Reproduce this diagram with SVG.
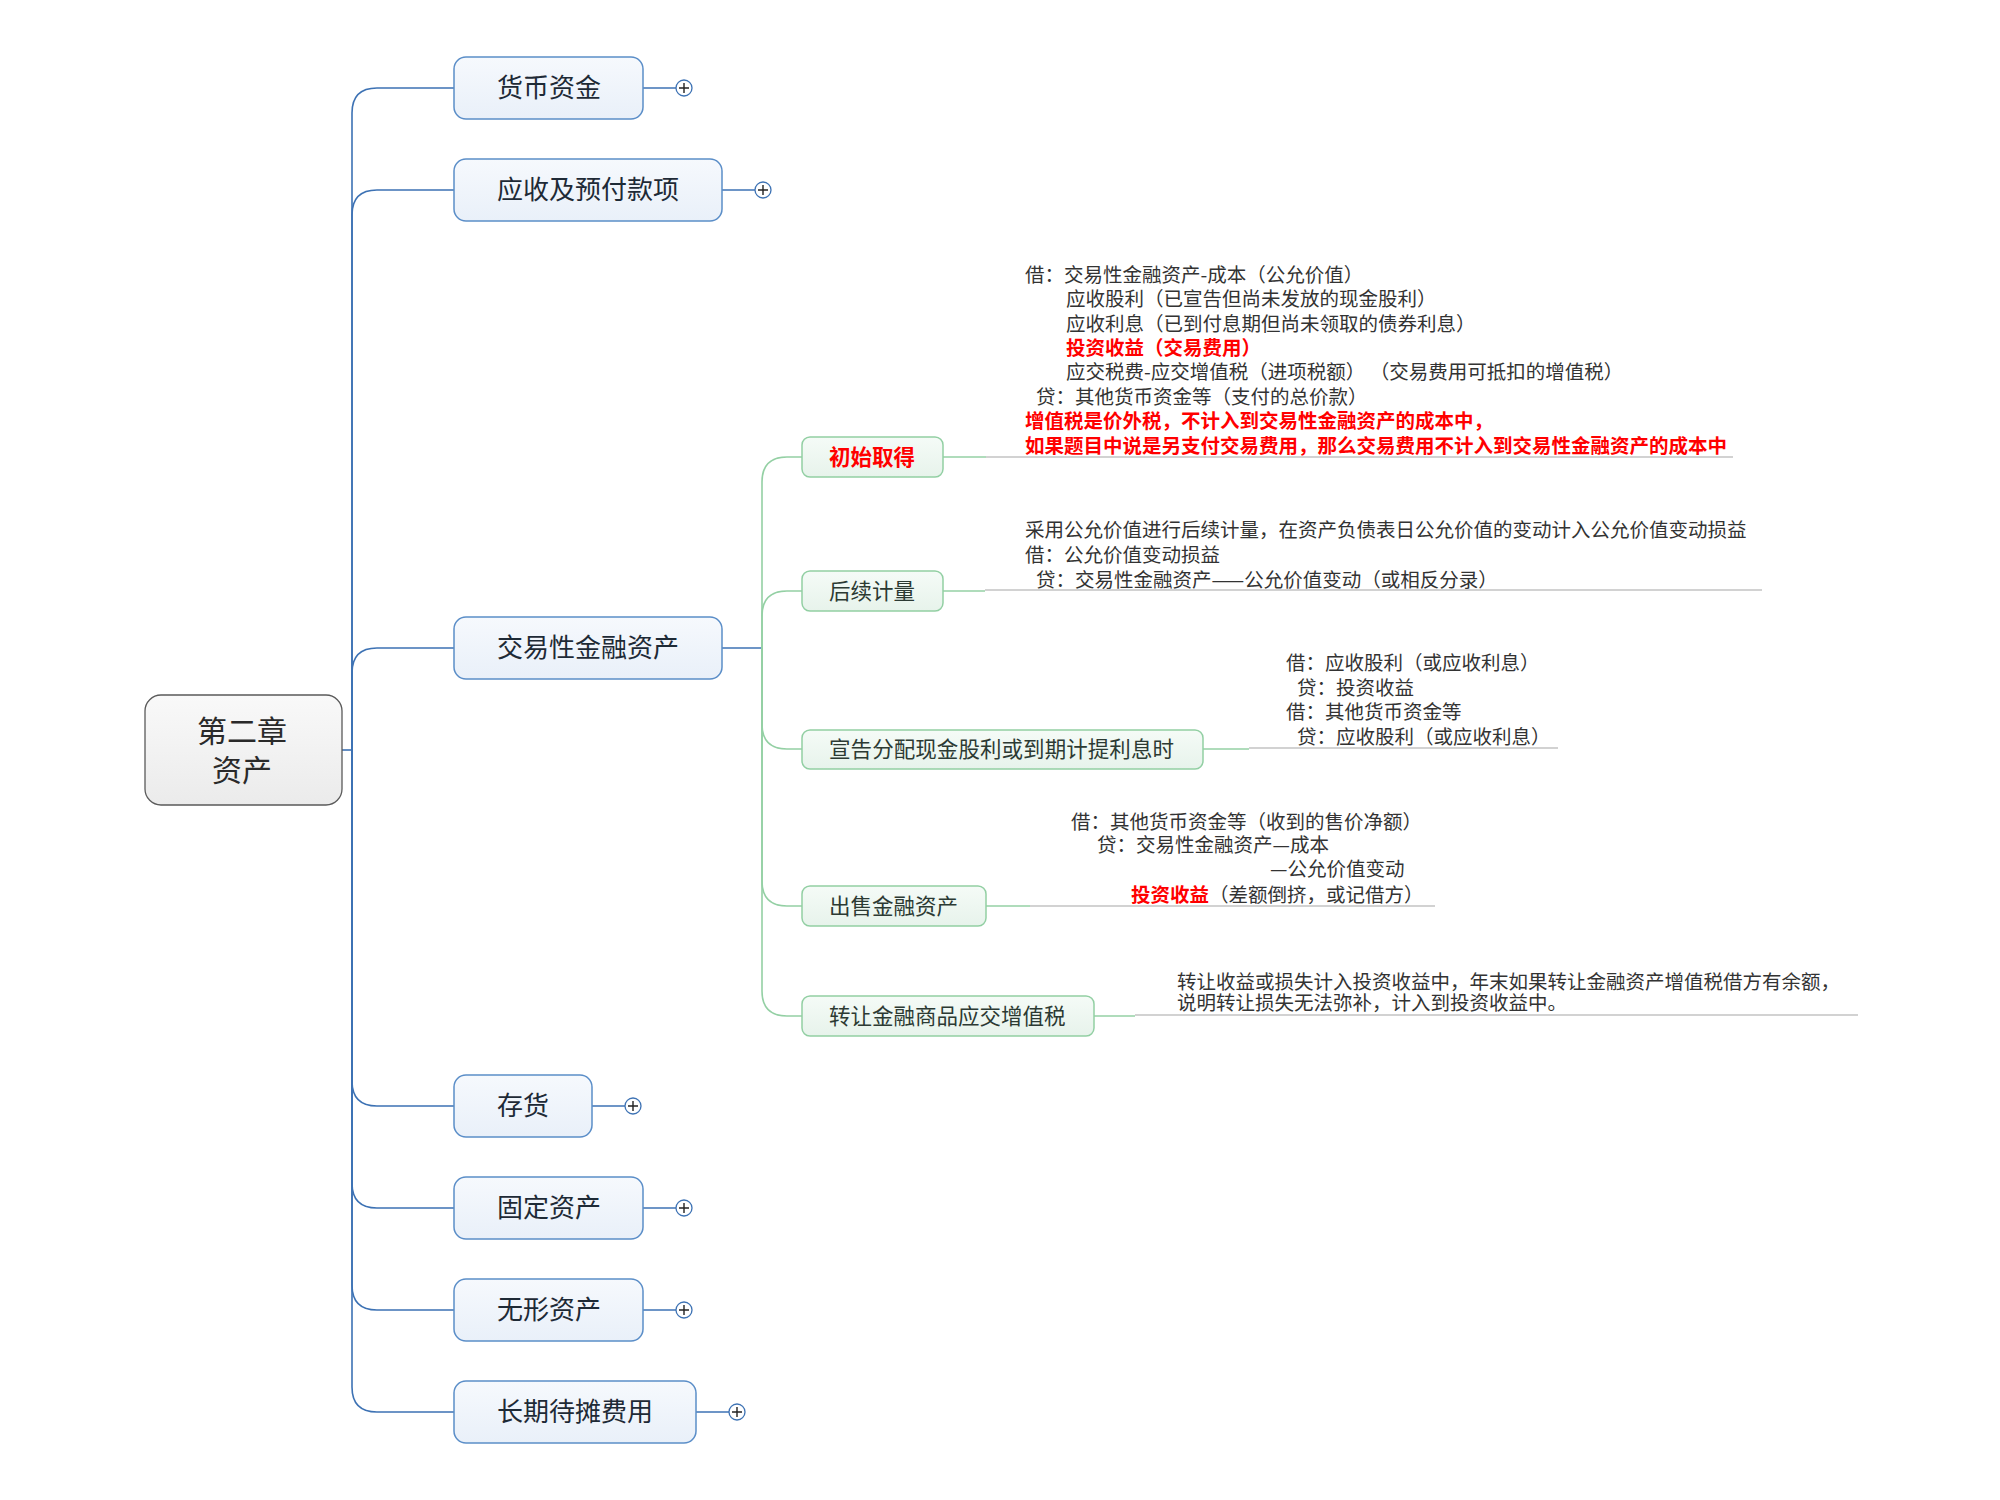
<svg xmlns="http://www.w3.org/2000/svg" width="2000" height="1500" viewBox="0 0 2000 1500">
<defs>
<linearGradient id="gC" x1="0" y1="0" x2="0" y2="1"><stop offset="0" stop-color="#f9f9f9"/><stop offset="1" stop-color="#ebebeb"/></linearGradient>
<linearGradient id="gB" x1="0" y1="0" x2="0" y2="1"><stop offset="0" stop-color="#f6f9fd"/><stop offset="1" stop-color="#e9f0f9"/></linearGradient>
<linearGradient id="gG" x1="0" y1="0" x2="0" y2="1"><stop offset="0" stop-color="#f5fbf7"/><stop offset="1" stop-color="#e7f3eb"/></linearGradient>
</defs>
<style>
text{font-family:"Noto Sans CJK SC","Liberation Sans",sans-serif;}
.center{fill:url(#gC);stroke:#5a5a5a;stroke-width:1.3;}
.l1{fill:url(#gB);stroke:#5b8ec8;stroke-width:1.5;}
.l2{fill:url(#gG);stroke:#92cfa3;stroke-width:1.5;}
.t0{font-size:30px;fill:#2a2a2a;text-anchor:middle;}
.t1{font-size:26px;fill:#1e2a36;}
.t2{font-size:21.5px;fill:#2c3a33;}
.t2r{font-size:21.5px;fill:#ff0000;font-weight:bold;}
.note{font-size:19.5px;fill:#333333;}
.red{fill:#ff0000;font-weight:bold;}
.bc{fill:none;stroke:#3d72b4;stroke-width:1.6;}
.gc{fill:none;stroke:#94d0a4;stroke-width:1.6;}
.ul{fill:none;stroke:#a6a6a6;stroke-width:1.2;}
.plus{fill:#ffffff;stroke:#3d72b4;stroke-width:1.3;}
.plusx{fill:none;stroke:#222;stroke-width:1.4;}
</style>

<g id="connectors">
<path class="bc" d="M342,750 L352,750"/>
<path class="bc" d="M352,750 L352,113 Q352,88 377,88 L454,88"/>
<path class="bc" d="M352,750 L352,215 Q352,190 377,190 L454,190"/>
<path class="bc" d="M352,750 L352,673 Q352,648 377,648 L454,648"/>
<path class="bc" d="M352,750 L352,1081 Q352,1106 377,1106 L454,1106"/>
<path class="bc" d="M352,750 L352,1183 Q352,1208 377,1208 L454,1208"/>
<path class="bc" d="M352,750 L352,1285 Q352,1310 377,1310 L454,1310"/>
<path class="bc" d="M352,750 L352,1387 Q352,1412 377,1412 L454,1412"/>
<path class="bc" d="M643,88 L676,88"/>
<path class="bc" d="M722,190 L755,190"/>
<path class="bc" d="M592,1106 L625,1106"/>
<path class="bc" d="M643,1208 L676,1208"/>
<path class="bc" d="M643,1310 L676,1310"/>
<path class="bc" d="M696,1412 L729,1412"/>
<path class="bc" d="M722,648 L762,648"/>
<path class="gc" d="M762,648 L762,482 Q762,457 787,457 L802,457"/>
<path class="gc" d="M762,648 L762,616 Q762,591 787,591 L802,591"/>
<path class="gc" d="M762,648 L762,724 Q762,749 787,749 L802,749"/>
<path class="gc" d="M762,648 L762,881 Q762,906 787,906 L802,906"/>
<path class="gc" d="M762,648 L762,991 Q762,1016 787,1016 L802,1016"/>
<path class="gc" d="M943,457 L986,457"/>
<path class="ul" d="M986,457 L1733,457"/>
<path class="gc" d="M943,591 L985,591"/>
<path class="ul" d="M985,590 L1762,590"/>
<path class="gc" d="M1203,749 L1249,749"/>
<path class="ul" d="M1249,748 L1558,748"/>
<path class="gc" d="M986,906 L1030,906"/>
<path class="ul" d="M1030,906 L1435,906"/>
<path class="gc" d="M1094,1016 L1135,1016"/>
<path class="ul" d="M1135,1015 L1858,1015"/>
</g>

<g id="plus-markers">
<circle class="plus" cx="684" cy="88" r="8"/><path class="plusx" d="M679,88 H689 M684,83 V93"/>
<circle class="plus" cx="763" cy="190" r="8"/><path class="plusx" d="M758,190 H768 M763,185 V195"/>
<circle class="plus" cx="633" cy="1106" r="8"/><path class="plusx" d="M628,1106 H638 M633,1101 V1111"/>
<circle class="plus" cx="684" cy="1208" r="8"/><path class="plusx" d="M679,1208 H689 M684,1203 V1213"/>
<circle class="plus" cx="684" cy="1310" r="8"/><path class="plusx" d="M679,1310 H689 M684,1305 V1315"/>
<circle class="plus" cx="737" cy="1412" r="8"/><path class="plusx" d="M732,1412 H742 M737,1407 V1417"/>
</g>

<g id="root">
<rect class="center" x="145" y="695" width="197" height="110" rx="16"/>
<text class="t0" x="242" y="742">第二章</text>
<text class="t0" x="242" y="781">资产</text>
</g>

<g id="n-huobi"><rect class="l1" x="454" y="57" width="189" height="62" rx="12"/><text class="t1" x="497" y="97">货币资金</text></g>
<g id="n-yingshou"><rect class="l1" x="454" y="159" width="268" height="62" rx="12"/><text class="t1" x="497" y="199">应收及预付款项</text></g>
<g id="n-jiaoyi"><rect class="l1" x="454" y="617" width="268" height="62" rx="12"/><text class="t1" x="497" y="657">交易性金融资产</text></g>
<g id="n-cunhuo"><rect class="l1" x="454" y="1075" width="138" height="62" rx="12"/><text class="t1" x="497" y="1115">存货</text></g>
<g id="n-guding"><rect class="l1" x="454" y="1177" width="189" height="62" rx="12"/><text class="t1" x="497" y="1217">固定资产</text></g>
<g id="n-wuxing"><rect class="l1" x="454" y="1279" width="189" height="62" rx="12"/><text class="t1" x="497" y="1319">无形资产</text></g>
<g id="n-changqi"><rect class="l1" x="454" y="1381" width="242" height="62" rx="12"/><text class="t1" x="497" y="1421">长期待摊费用</text></g>

<g id="n-chushi"><rect class="l2" x="802" y="437" width="141" height="40" rx="8"/><text class="t2r" x="829" y="465">初始取得</text></g>
<g id="n-houxu"><rect class="l2" x="802" y="571" width="141" height="40" rx="8"/><text class="t2" x="829" y="599">后续计量</text></g>
<g id="n-xuangao"><rect class="l2" x="802" y="730" width="401" height="39" rx="8"/><text class="t2" x="829" y="757" textLength="345">宣告分配现金股利或到期计提利息时</text></g>
<g id="n-chushou"><rect class="l2" x="802" y="886" width="184" height="40" rx="8"/><text class="t2" x="829" y="914">出售金融资产</text></g>
<g id="n-zhuanrang"><rect class="l2" x="802" y="996" width="292" height="40" rx="8"/><text class="t2" x="829" y="1024">转让金融商品应交增值税</text></g>

<g id="note-chushi">
<text class="note" x="1025" y="282">借：交易性金融资产-成本（公允价值）</text>
<text class="note" x="1066" y="306">应收股利（已宣告但尚未发放的现金股利）</text>
<text class="note" x="1066" y="331">应收利息（已到付息期但尚未领取的债券利息）</text>
<text class="note red" x="1066" y="355">投资收益（交易费用）</text>
<text class="note" x="1066" y="379">应交税费-应交增值税（进项税额） （交易费用可抵扣的增值税）</text>
<text class="note" x="1036" y="404">贷：其他货币资金等（支付的总价款）</text>
<text class="note red" x="1025" y="428">增值税是价外税，不计入到交易性金融资产的成本中，</text>
<text class="note red" x="1025" y="453">如果题目中说是另支付交易费用，那么交易费用不计入到交易性金融资产的成本中</text>
</g>

<g id="note-houxu">
<text class="note" x="1025" y="537">采用公允价值进行后续计量，在资产负债表日公允价值的变动计入公允价值变动损益</text>
<text class="note" x="1025" y="562">借：公允价值变动损益</text>
<text class="note" x="1036" y="587">贷：交易性金融资产——公允价值变动（或相反分录）</text>
</g>

<g id="note-xuangao">
<text class="note" x="1286" y="670">借：应收股利（或应收利息）</text>
<text class="note" x="1297" y="695">贷：投资收益</text>
<text class="note" x="1286" y="719">借：其他货币资金等</text>
<text class="note" x="1297" y="744">贷：应收股利（或应收利息）</text>
</g>

<g id="note-chushou">
<text class="note" x="1071" y="829">借：其他货币资金等（收到的售价净额）</text>
<text class="note" x="1097" y="852">贷：交易性金融资产—成本</text>
<text class="note" x="1270" y="876">—公允价值变动</text>
<text class="note" x="1131" y="902"><tspan class="red">投资收益</tspan>（差额倒挤，或记借方）</text>
</g>

<g id="note-zhuanrang">
<text class="note" x="1177" y="989">转让收益或损失计入投资收益中，年末如果转让金融资产增值税借方有余额，</text>
<text class="note" x="1177" y="1010">说明转让损失无法弥补，计入到投资收益中。</text>
</g>
</svg>
